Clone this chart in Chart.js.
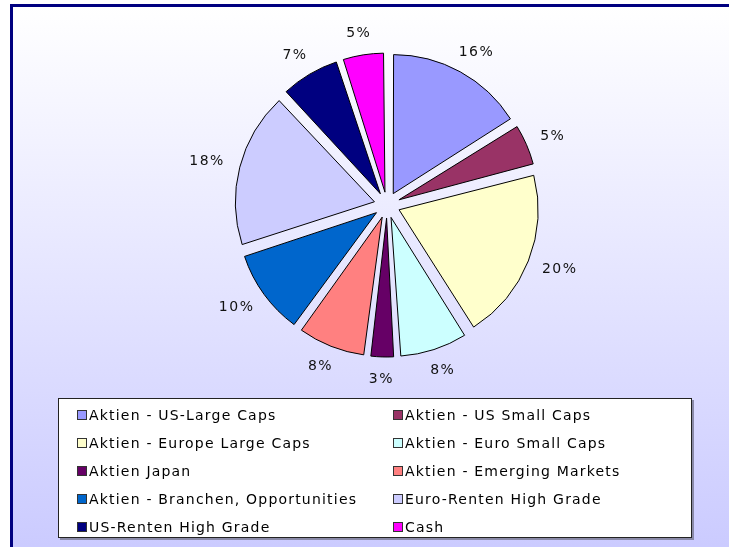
<!DOCTYPE html>
<html>
<head>
<meta charset="utf-8">
<script src="https://cdn.jsdelivr.net/npm/chart.js@4.4.0/dist/chart.umd.min.js"></script>
<style>
  html, body { margin: 0; padding: 0; width: 729px; height: 547px; overflow: hidden; background: #fff; }
  #frame { position: absolute; left: 10px; top: 4px; width: 740px; height: 560px;
           border: 3px solid #000080; background: linear-gradient(#ffffff, #c9c9ff); }
  #chart { position: absolute; left: 0; top: 0; }
  #legend { position: absolute; left: 58px; top: 398px; width: 634px; height: 140px; box-sizing: border-box;
            background: #fff; border: 1px solid #222; box-shadow: 2px 2px 0 #8a8aa8;
            padding: 2px 0 0 18px; display: grid; grid-template-columns: 316px 1fr; grid-auto-rows: 28px;
            font-family: "DejaVu Sans"; font-size: 14px; letter-spacing: 1.2px; color: #000; }
  #legend .item { display: flex; align-items: center; white-space: nowrap; }
  #legend .box { width: 10px; height: 10px; box-sizing: border-box; border: 1px solid #333; margin-right: 2px; }
</style>
</head>
<body>
<div id="frame"></div>
<canvas id="chart" width="729" height="547"></canvas>
<div id="legend"></div>
<script>
// portfolio split, percent
var categories = [
    'Aktien - US-Large Caps',
    'Aktien - US Small Caps',
    'Aktien - Europe Large Caps',
    'Aktien - Euro Small Caps',
    'Aktien Japan',
    'Aktien - Emerging Markets',
    'Aktien - Branchen, Opportunities',
    'Euro-Renten High Grade',
    'US-Renten High Grade',
    'Cash'
];
var shares = [16, 5, 20, 8, 3, 8, 10, 18, 7, 5];
var sliceColors = ['#9999ff', '#993366', '#ffffcc', '#ccffff', '#660066',
                   '#ff8080', '#0066cc', '#ccccff', '#000080', '#ff00ff'];

var explode = 52; // chart.js moves the arc by offset / 4

// chart.js also grows narrow exploded arcs, keep every slice at the same radius
var baseArcDraw = Chart.ArcElement.prototype.draw;
Chart.ArcElement.prototype.draw = function (ctx) {
    var o = (this.options.offset || 0) / 4;
    var fix = 1 - Math.sin(Math.min(Math.PI, this.circumference || 0));
    var keep = this.outerRadius;
    this.outerRadius = keep - o * fix;
    baseArcDraw.call(this, ctx);
    this.outerRadius = keep;
};

var pctLabels = {
    id: 'pctLabels',
    afterDatasetsDraw: function (chart) {
        var ctx = chart.ctx;
        var meta = chart.getDatasetMeta(0);
        var data = chart.data.datasets[0].data;
        var total = data.reduce(function (a, b) { return a + b; }, 0);
        ctx.save();
        ctx.font = '14px "DejaVu Sans"';
        ctx.letterSpacing = '1.5px';
        ctx.fillStyle = '#111';
        ctx.textAlign = 'center';
        ctx.textBaseline = 'middle';
        meta.data.forEach(function (arc, i) {
            var p = arc.getProps(['x', 'y', 'startAngle', 'endAngle', 'outerRadius']);
            var mid = (p.startAngle + p.endAngle) / 2;
            var dx = Math.cos(mid), dy = Math.sin(mid);
            var txt = Math.round(data[i] / total * 100) + '%';
            var w = ctx.measureText(txt).width, h = 12;
            var r = p.outerRadius + explode / 4 + 16;
            ctx.fillText(txt, p.x + dx * (r + w / 2), p.y + dy * (r + h / 2));
        });
        ctx.restore();
    }
};

var chart = new Chart(document.getElementById('chart'), {
    type: 'pie',
    data: {
        labels: categories,
        datasets: [{
            data: shares,
            backgroundColor: sliceColors,
            borderColor: '#000',
            borderWidth: 1,
            offset: explode
        }]
    },
    options: {
        responsive: false,
        animation: false,
        devicePixelRatio: 1,
        layout: { padding: { left: 221.5, right: 176.5, top: 39.5, bottom: 176.5 } },
        plugins: {
            legend: { display: false },
            tooltip: { enabled: false }
        }
    },
    plugins: [pctLabels]
});

// html legend in two columns, built from the chart's own legend items
var legendEl = document.getElementById('legend');
Chart.overrides.pie.plugins.legend.labels.generateLabels(chart).forEach(function (item) {
    var div = document.createElement('div');
    div.className = 'item';
    var box = document.createElement('span');
    box.className = 'box';
    box.style.background = item.fillStyle;
    div.appendChild(box);
    div.appendChild(document.createTextNode(item.text));
    legendEl.appendChild(div);
});
</script>
</body>
</html>
